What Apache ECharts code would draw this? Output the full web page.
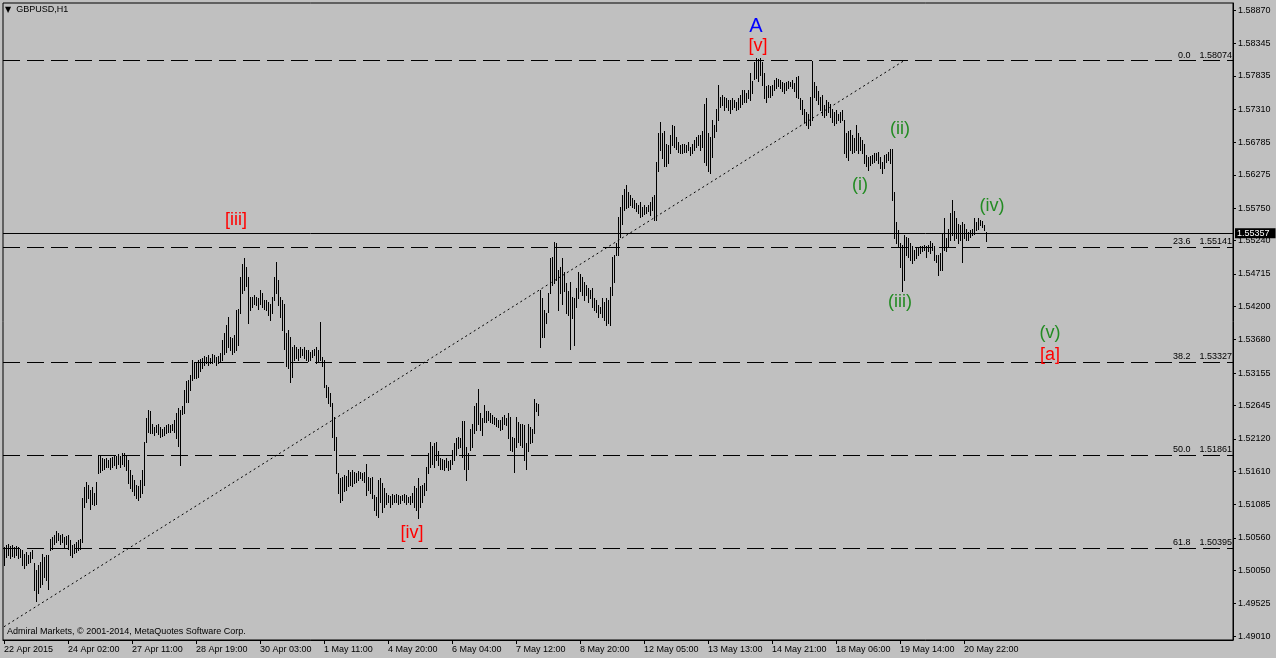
<!DOCTYPE html>
<html><head><meta charset="utf-8">
<script src="https://cdn.jsdelivr.net/npm/echarts@6/dist/echarts.min.js"></script>
<style>html,body{margin:0;padding:0;background:#c0c0c0;}#c{width:1276px;height:658px;}</style>
</head><body><div id="c"></div>
<script>
const chartTitle = 'GBPUSD,H1';
const copyright = 'Admiral Markets, \u00a9 2001-2014, MetaQuotes Software Corp.';
const tickLabels = ['22 Apr 2015','24 Apr 02:00','27 Apr 11:00','28 Apr 19:00','30 Apr 03:00','1 May 11:00','4 May 20:00','6 May 04:00','7 May 12:00','8 May 20:00','12 May 05:00','13 May 13:00','14 May 21:00','18 May 06:00','19 May 14:00','20 May 22:00'];
const barsPerLabel = 32;
const slotCount = 615;
const priceTicks = [1.58870,1.58345,1.57835,1.57310,1.56785,1.56275,1.55750,1.55240,1.54715,1.54200,1.53680,1.53155,1.52645,1.52120,1.51610,1.51085,1.50560,1.50050,1.49525,1.49010];
const priceMin = 1.48951, priceMax = 1.58983;

const highs = [
1.5042,1.5045,1.5046,1.5043,1.5045,1.5042,1.5043,1.5041,1.5039,1.5037,
1.5031,1.5034,1.5029,1.5034,1.5037,1.5016,1.5005,1.5013,1.5018,1.5031,
1.5026,1.5029,1.5029,1.5054,1.5058,1.5060,1.5067,1.5064,1.5060,1.5062,
1.5058,1.5059,1.5060,1.5052,1.5045,1.5047,1.5050,1.5052,1.5054,1.5118,
1.5136,1.5144,1.5139,1.5131,1.5136,1.5126,1.5144,1.5186,1.5185,1.5181,
1.5180,1.5181,1.5179,1.5181,
1.5184,1.5186,1.5185,1.5188,1.5185,1.5189,1.5190,1.5186,1.5179,1.5163,
1.5155,1.5147,1.5139,1.5137,1.5147,1.5163,1.5207,1.5244,1.5257,1.5255,
1.5236,1.5231,1.5234,1.5236,1.5231,1.5228,1.5231,1.5234,1.5236,1.5234,
1.5236,1.5242,1.5253,1.5260,1.5257,1.5264,1.5289,1.5303,1.5305,1.5312,
1.5336,1.5333,1.5331,1.5336,1.5337,1.5339,1.5342,1.5341,1.5344,1.5340,
1.5346,1.5344,1.5341,1.5342,1.5347,
1.5368,1.5378,1.5391,1.5404,1.5373,1.5370,1.5375,1.5415,1.5417,1.5467,
1.5488,1.5496,1.5483,1.5467,1.5436,1.5436,1.5438,1.5436,1.5433,1.5446,
1.5441,1.5431,1.5431,1.5428,1.5425,1.5436,1.5467,1.5491,1.5462,1.5436,
1.5431,1.5425,1.5378,1.5383,1.5373,1.5357,1.5360,1.5357,1.5354,1.5357,
1.5354,1.5357,1.5352,1.5352,1.5349,1.5352,1.5354,1.5357,1.5352,1.5396,
1.5341,1.5336,1.5297,1.5294,1.5284,1.5268,
1.5247,1.5215,1.5158,1.5150,1.5152,1.5155,1.5153,1.5163,1.5160,1.5163,
1.5160,1.5158,1.5162,1.5160,1.5158,1.5160,1.5173,1.5152,1.5150,1.5152,
1.5123,1.5121,1.5147,1.5150,1.5142,1.5134,1.5126,1.5123,1.5122,1.5125,
1.5123,1.5125,1.5123,1.5122,1.5123,1.5125,1.5123,1.5121,1.5122,1.5126,
1.5137,1.5134,1.5150,1.5137,1.5139,1.5142,1.5168,1.5189,1.5207,1.5200,
1.5205,1.5207,1.5192,1.5181,
1.5180,1.5178,1.5181,1.5177,1.5178,1.5194,1.5205,1.5213,1.5215,1.5213,
1.5240,1.5240,1.5199,1.5189,1.5228,1.5236,1.5263,1.5268,1.5290,1.5253,
1.5244,1.5265,1.5255,1.5255,1.5253,1.5249,1.5247,1.5244,1.5242,1.5242,
1.5247,1.5249,1.5244,1.5252,1.5247,1.5215,1.5213,1.5247,1.5239,1.5236,
1.5236,1.5234,1.5205,1.5236,1.5230,1.5228,1.5274,1.5269,1.5267,1.5446,
1.5433,1.5415,1.5410,1.5441,1.5496,
1.5499,1.5522,1.5520,1.5478,1.5483,1.5496,1.5475,1.5457,1.5444,1.5459,
1.5436,1.5433,1.5449,1.5475,1.5472,1.5467,1.5459,1.5454,1.5449,1.5446,
1.5449,1.5433,1.5431,1.5423,1.5420,1.5433,1.5428,1.5433,1.5431,1.5451,
1.5499,1.5501,1.5520,1.5562,1.5577,1.5596,1.5606,1.5612,1.5601,1.5596,
1.5591,1.5588,1.5583,1.5580,1.5585,1.5577,1.5580,1.5577,1.5580,1.5585,
1.5593,1.5596,1.5648,1.5693,1.5711,
1.5693,1.5696,1.5677,1.5675,1.5690,1.5706,1.5704,1.5688,1.5680,1.5675,
1.5677,1.5677,1.5675,1.5680,1.5672,1.5677,1.5683,1.5688,1.5690,1.5690,
1.5696,1.5740,1.5748,1.5693,1.5688,1.5714,1.5706,1.5732,1.5769,1.5751,
1.5753,1.5751,1.5748,1.5745,1.5745,1.5748,1.5745,1.5743,1.5748,1.5753,
1.5761,1.5761,1.5756,1.5761,1.5788,1.5775,1.5806,1.5812,1.5810,1.5812,
1.5806,1.5788,1.5767,1.5769,1.5767,
1.5769,1.5777,1.5780,1.5778,1.5777,1.5774,1.5772,1.5774,1.5776,1.5774,
1.5777,1.5772,1.5782,1.5783,1.5748,1.5746,1.5732,1.5727,1.5724,1.5751,
1.5807,1.5774,1.5767,1.5759,1.5751,1.5753,1.5738,1.5746,1.5743,1.5740,
1.5732,1.5727,1.5730,1.5724,1.5727,1.5730,1.5714,1.5693,1.5696,1.5698,
1.5690,1.5685,1.5706,1.5693,1.5688,1.5682,1.5677,1.5659,1.5656,1.5657,
1.5659,1.5662,1.5662,1.5664,1.5656,1.5648,
1.5659,1.5661,1.5664,1.5669,1.5668,1.5601,1.5554,1.5541,1.5520,1.5517,
1.5533,1.5530,1.5528,1.5520,1.5515,1.5509,1.5512,1.5512,1.5516,1.5516,
1.5517,1.5516,1.5517,1.5523,1.5520,1.5515,1.5502,1.5502,1.5504,1.5535,
1.5559,1.5528,1.5543,1.5567,1.5588,1.5570,1.5559,1.5551,1.5549,1.5554,
1.5551,1.5543,1.5538,1.5541,1.5543,1.5559,1.5554,1.5559,1.5557,1.5555,
1.5549,1.5538
];
const lows = [
1.5013,1.5026,1.5029,1.5025,1.5027,1.5026,1.5029,1.5025,1.5026,1.5013,
1.5008,1.5013,1.5016,1.5018,1.5024,1.4974,1.4957,1.4969,1.4979,1.4984,
1.4995,1.4990,1.4976,1.5037,1.5039,1.5047,1.5050,1.5053,1.5047,1.5050,
1.5042,1.5046,1.5039,1.5029,1.5026,1.5032,1.5034,1.5037,1.5039,1.5050,
1.5105,1.5113,1.5118,1.5102,1.5110,1.5108,1.5110,1.5158,1.5160,1.5163,
1.5165,1.5168,1.5167,1.5165,
1.5168,1.5171,1.5166,1.5173,1.5167,1.5173,1.5169,1.5163,1.5142,1.5134,
1.5129,1.5123,1.5118,1.5115,1.5121,1.5126,1.5139,1.5207,1.5223,1.5221,
1.5221,1.5218,1.5223,1.5219,1.5215,1.5216,1.5218,1.5221,1.5222,1.5223,
1.5226,1.5223,1.5213,1.5200,1.5171,1.5251,1.5252,1.5270,1.5270,1.5289,
1.5305,1.5307,1.5307,1.5310,1.5319,1.5323,1.5328,1.5331,1.5328,1.5332,
1.5332,1.5333,1.5328,1.5331,1.5333,
1.5336,1.5346,1.5349,1.5357,1.5352,1.5346,1.5349,1.5352,1.5360,1.5410,
1.5441,1.5446,1.5452,1.5394,1.5415,1.5420,1.5425,1.5423,1.5417,1.5425,
1.5420,1.5417,1.5415,1.5407,1.5399,1.5410,1.5431,1.5441,1.5423,1.5404,
1.5383,1.5354,1.5326,1.5323,1.5302,1.5310,1.5336,1.5339,1.5336,1.5341,
1.5344,1.5339,1.5336,1.5335,1.5336,1.5341,1.5344,1.5331,1.5333,1.5336,
1.5326,1.5294,1.5278,1.5268,1.5263,1.5215,
1.5194,1.5158,1.5126,1.5113,1.5116,1.5129,1.5131,1.5137,1.5139,1.5137,
1.5142,1.5144,1.5147,1.5150,1.5147,1.5144,1.5123,1.5131,1.5126,1.5118,
1.5100,1.5092,1.5089,1.5113,1.5097,1.5105,1.5110,1.5113,1.5105,1.5110,
1.5113,1.5113,1.5110,1.5111,1.5116,1.5113,1.5110,1.5113,1.5110,1.5113,
1.5105,1.5100,1.5087,1.5105,1.5113,1.5123,1.5131,1.5158,1.5168,1.5173,
1.5168,1.5178,1.5171,1.5165,
1.5164,1.5163,1.5167,1.5163,1.5164,1.5173,1.5178,1.5186,1.5197,1.5199,
1.5184,1.5165,1.5147,1.5165,1.5194,1.5199,1.5221,1.5226,1.5236,1.5226,
1.5218,1.5239,1.5239,1.5242,1.5239,1.5237,1.5235,1.5232,1.5230,1.5226,
1.5228,1.5236,1.5234,1.5213,1.5194,1.5192,1.5160,1.5199,1.5207,1.5202,
1.5199,1.5178,1.5165,1.5192,1.5205,1.5207,1.5221,1.5255,1.5249,1.5356,
1.5373,1.5372,1.5394,1.5412,1.5441,
1.5454,1.5457,1.5462,1.5415,1.5441,1.5425,1.5444,1.5410,1.5407,1.5353,
1.5402,1.5360,1.5420,1.5433,1.5444,1.5438,1.5431,1.5438,1.5428,1.5433,
1.5420,1.5415,1.5412,1.5404,1.5410,1.5404,1.5399,1.5391,1.5394,1.5391,
1.5438,1.5459,1.5501,1.5501,1.5530,1.5551,1.5572,1.5575,1.5577,1.5580,
1.5577,1.5575,1.5570,1.5567,1.5562,1.5563,1.5566,1.5567,1.5570,1.5564,
1.5572,1.5556,1.5556,1.5633,1.5667,
1.5654,1.5641,1.5641,1.5646,1.5662,1.5675,1.5672,1.5669,1.5664,1.5662,
1.5662,1.5664,1.5663,1.5667,1.5659,1.5662,1.5667,1.5672,1.5675,1.5667,
1.5672,1.5648,1.5643,1.5633,1.5631,1.5656,1.5688,1.5696,1.5714,1.5735,
1.5738,1.5730,1.5735,1.5730,1.5725,1.5732,1.5735,1.5730,1.5732,1.5735,
1.5740,1.5743,1.5743,1.5748,1.5745,1.5756,1.5778,1.5780,1.5775,1.5785,
1.5769,1.5748,1.5743,1.5751,1.5751,
1.5753,1.5761,1.5764,1.5767,1.5764,1.5759,1.5756,1.5761,1.5764,1.5767,
1.5764,1.5759,1.5751,1.5748,1.5732,1.5724,1.5711,1.5706,1.5701,1.5706,
1.5714,1.5751,1.5746,1.5740,1.5730,1.5722,1.5719,1.5722,1.5727,1.5719,
1.5711,1.5706,1.5709,1.5714,1.5711,1.5714,1.5662,1.5656,1.5651,1.5667,
1.5662,1.5664,1.5667,1.5662,1.5667,1.5662,1.5646,1.5641,1.5636,1.5643,
1.5646,1.5648,1.5651,1.5646,1.5638,1.5630,
1.5638,1.5648,1.5651,1.5646,1.5588,1.5528,1.5520,1.5515,1.5483,1.5445,
1.5462,1.5502,1.5499,1.5494,1.5489,1.5494,1.5496,1.5502,1.5504,1.5507,
1.5509,1.5499,1.5507,1.5504,1.5509,1.5494,1.5491,1.5470,1.5478,1.5478,
1.5509,1.5507,1.5515,1.5525,1.5533,1.5525,1.5528,1.5520,1.5525,1.5491,
1.5528,1.5525,1.5525,1.5530,1.5533,1.5535,1.5541,1.5543,1.5549,1.5546,
1.5541,1.5524
];

const fibLevels = ['0.0','23.6','38.2','50.0','61.8'];
const fibPrices = [1.58074,1.55141,1.53327,1.51861,1.50395];
const lastPrice = 1.55357;
const trendFrom = [0, 1.4916];
const trendTo = [450, 1.58074];

const annoTexts  = ['A','[v]','[iii]','[iv]','(i)','(ii)','(iii)','(iv)','(v)','[a]'];
const annoBars   = [376,377,116,204,428,448,448,494,523,523];
const annoPrices = [1.5862,1.5831,1.5557,1.5064,1.5612,1.5700,1.5427,1.5579,1.5379,1.5344];
const annoColors = ['#0000ff','#ff0000','#ff0000','#ff0000','#228b22','#228b22','#228b22','#228b22','#228b22','#ff0000'];

const FONT = 'Liberation Sans';
const categories = [];
for (let i = 0; i < slotCount; i++) categories.push(String(i));
const n = Math.min(highs.length, lows.length);
const bars = [];
for (let i = 0; i < n; i++) bars.push([i, highs[i], lows[i]]);
const isLabelIdx = (idx) => idx % barsPerLabel === 0 && (idx / barsPerLabel) < tickLabels.length;

const chart = echarts.init(document.getElementById('c'), null, {renderer: 'canvas'});
chart.setOption({
  animation: false,
  backgroundColor: '#c0c0c0',
  textStyle: {fontFamily: FONT},
  title: [
    {text: '{t|\u25bc}' + chartTitle, left: 5, top: 5, padding: 0,
     textStyle: {fontSize: 9, fontWeight: 'normal', color: '#000', fontFamily: FONT,
       rich: {t: {fontSize: 8, fontFamily: 'DejaVu Sans', color: '#000', padding: [0, 5, 0, 0]}}}},
    {text: copyright, left: 7, top: 627, padding: 0,
     textStyle: {fontSize: 9, fontWeight: 'normal', color: '#000', fontFamily: FONT}}
  ],
  grid: {left: 3, right: 43, top: 3, bottom: 18, show: true, borderColor: '#000', borderWidth: 1, backgroundColor: 'transparent', outerBoundsMode: 'none'},
  xAxis: {
    type: 'category', data: categories, boundaryGap: true,
    axisLine: {show: true, lineStyle: {color: '#000', width: 1}},
    axisTick: {show: true, alignWithLabel: true, length: 4, interval: (idx) => isLabelIdx(idx), lineStyle: {color: '#000'}},
    axisLabel: {show: true, interval: (idx) => isLabelIdx(idx), formatter: (v, idx) => tickLabels[idx / barsPerLabel] || '',
      align: 'left', margin: 5, fontSize: 9, color: '#000', fontFamily: FONT, padding: [0, 0, 0, 0]},
    splitLine: {show: false}
  },
  yAxis: {
    type: 'value', position: 'right', min: priceMin, max: priceMax, scale: true,
    axisLine: {show: true, lineStyle: {color: '#000', width: 1}},
    axisTick: {show: true, length: 3, customValues: priceTicks, lineStyle: {color: '#000'}},
    axisLabel: {show: true, customValues: priceTicks, formatter: (v) => Number(v).toFixed(5), margin: 5, fontSize: 9, color: '#000', fontFamily: FONT},
    splitLine: {show: false}
  },
  series: [
    {
      type: 'custom', name: 'GBPUSD', data: bars, encode: {x: 0, y: [1, 2]}, clip: true,
      renderItem: function (params, api) {
        const i = api.value(0);
        const p1 = api.coord([i, api.value(1)]);
        const p2 = api.coord([i, api.value(2)]);
        const x = Math.round(p1[0]) + 0.5;
        return {type: 'line', shape: {x1: x, y1: Math.round(p1[1]), x2: x, y2: Math.round(p2[1]) + 1},
                style: {stroke: '#000', lineWidth: 1}};
      }
    },
    {
      type: 'line', name: 'objects', data: [], silent: true,
      markLine: {
        silent: true, symbol: ['none', 'none'], animation: false, precision: 6,
        data: fibPrices.map((p, k) => ({
          yAxis: p,
          lineStyle: {type: [17, 7], color: '#000', width: 1},
          label: {show: true, position: 'insideEndTop', distance: [1, 1], color: '#000', fontSize: 9, fontFamily: FONT,
            formatter: '{a|' + fibLevels[k] + '}{b|' + p.toFixed(5) + '}',
            rich: {a: {fontSize: 9, fontFamily: FONT, color: '#000', padding: [0, 9, 0, 0]}, b: {fontSize: 9, fontFamily: FONT, color: '#000'}}}
        })).concat([
          {yAxis: lastPrice, lineStyle: {type: 'solid', color: '#000', width: 1},
           label: {show: true, position: 'end', distance: 2, formatter: lastPrice.toFixed(5), color: '#fff', backgroundColor: '#000',
             padding: [1, 6, 0, 2], fontSize: 9, fontFamily: FONT}},
          [{coord: trendFrom, lineStyle: {type: [2, 3], color: '#000', width: 1}, label: {show: false}}, {coord: trendTo}]
        ])
      },
      markPoint: {
        silent: true, animation: false, precision: 6,
        data: annoTexts.map((t, k) => ({
          coord: [annoBars[k], annoPrices[k]], symbol: 'circle', symbolSize: 1,
          itemStyle: {color: 'rgba(0,0,0,0)'},
          label: {show: true, position: 'inside', formatter: t, color: annoColors[k], fontSize: t === 'A' ? 20 : 18, fontFamily: FONT}
        }))
      }
    }
  ]
});
</script></body></html>
